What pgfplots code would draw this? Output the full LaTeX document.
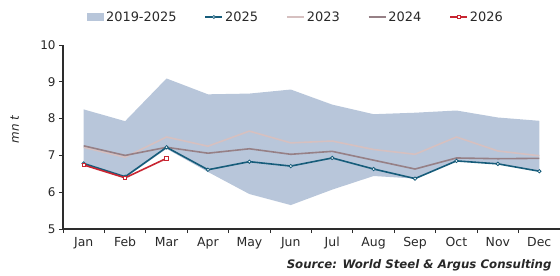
\documentclass[border=0pt]{standalone}
\usepackage{pgfplots}
\pgfplotsset{compat=1.18}
\usepgfplotslibrary{fillbetween}
\usepackage{fontspec}
\setmainfont{DejaVu Sans}
\definecolor{bandcol}{RGB}{184,198,218}
\definecolor{c25}{RGB}{22,92,122}
\definecolor{c23}{RGB}{214,192,192}
\definecolor{c24}{RGB}{150,128,134}
\definecolor{c26}{RGB}{200,38,50}
\definecolor{axcol}{RGB}{45,45,45}
\definecolor{txt}{RGB}{40,40,40}
\begin{document}
\begin{tikzpicture}
\begin{axis}[
  at={(0,0)}, anchor=south west,
  scale only axis, width=497bp, height=184bp,
  xmin=0.5, xmax=12.5, ymin=5, ymax=10,
  axis x line*=bottom, axis y line*=left,
  axis line style={draw=axcol, line width=1.1bp},
  xtick={0.5,1.5,...,12.5}, x tick label as interval,
  xticklabels={Jan,Feb,Mar,Apr,May,Jun,Jul,Aug,Sep,Oct,Nov,Dec},
  ytick={5,6,...,10},
  tick align=outside, major tick length=4bp,
  tick style={draw=axcol, line width=1bp},
  /pgf/number format/assume math mode=true,
  x tick label style={font=\fontsize{12.5}{14}\selectfont, text=txt, yshift=-1bp},
  y tick label style={font=\fontsize{12}{14}\selectfont, text=txt},
  ylabel={\itshape mn t},
  ylabel style={font=\fontsize{12}{14}\selectfont, text=txt, at={(axis description cs:-0.097,0.54)}, anchor=center},
  legend style={at={(axis description cs:0.048,1.152)}, anchor=west, draw=none, fill=none,
    legend columns=-1, font=\fontsize{13}{15}\selectfont, text=txt,
    /tikz/every odd column/.append style={column sep=0bp},
    /tikz/every even column/.append style={column sep=26bp},
    inner sep=0pt},
]
\addplot[name path=up, draw=none, forget plot] coordinates {
(1,8.25) (2,7.93) (3,9.09) (4,8.66) (5,8.68) (6,8.79) (7,8.38) (8,8.12) (9,8.16) (10,8.22) (11,8.03) (12,7.94)};
\addplot[name path=lo, draw=none, forget plot] coordinates {
(1,6.74) (2,6.39) (3,7.18) (4,6.55) (5,5.95) (6,5.65) (7,6.07) (8,6.44) (9,6.37) (10,6.85) (11,6.77) (12,6.57)};
\addplot[fill=bandcol, draw=none, legend image code/.code={\fill[bandcol] (0bp,-4bp) rectangle (17bp,4bp);}] fill between[of=up and lo];
\addlegendentry{2019-2025}
% 2023
\addplot[c23, line width=1.6bp, forget plot] coordinates {
(1,7.22) (2,6.95) (3,7.50) (4,7.25) (5,7.66) (6,7.34) (7,7.39) (8,7.16) (9,7.03) (10,7.50) (11,7.12) (12,6.99)};
% 2024
\addplot[c24, line width=1.6bp, forget plot] coordinates {
(1,7.26) (2,7.00) (3,7.22) (4,7.06) (5,7.18) (6,7.03) (7,7.11) (8,6.87) (9,6.63) (10,6.93) (11,6.91) (12,6.92)};
% 2025
\addplot[c25, line width=1.6bp, mark=*, mark size=1.7bp, mark options={fill=white, line width=0.8bp}, forget plot] coordinates {
(1,6.78) (2,6.42) (3,7.22) (4,6.61) (5,6.83) (6,6.71) (7,6.93) (8,6.63) (9,6.37) (10,6.85) (11,6.77) (12,6.57)};
% 2026
\addplot[c26, line width=1.6bp, mark=square*, mark size=1.7bp, mark options={fill=white, line width=0.8bp}, forget plot] coordinates {
(1,6.74) (2,6.39) (3,6.92)};
\addlegendimage{c25, line width=1.6bp, mark=*, mark size=1.5bp, mark options={fill=white, line width=0.7bp}}
\addlegendentry{2025}
\addlegendimage{c23, line width=1.6bp}
\addlegendentry{2023}
\addlegendimage{c24, line width=1.6bp}
\addlegendentry{2024}
\addlegendimage{c26, line width=1.6bp, mark=square*, mark size=1.5bp, mark options={fill=white, line width=0.7bp}}
\addlegendentry{2026}
\end{axis}
\node[anchor=east, font=\fontsize{11.8}{13}\selectfont\bfseries\itshape, text=txt] at (492bp,-36bp) {Source: World Steel \& Argus Consulting};
\pgfresetboundingbox
\path[use as bounding box] (-63bp,-47bp) rectangle (497bp,229bp);
\end{tikzpicture}
\end{document}
